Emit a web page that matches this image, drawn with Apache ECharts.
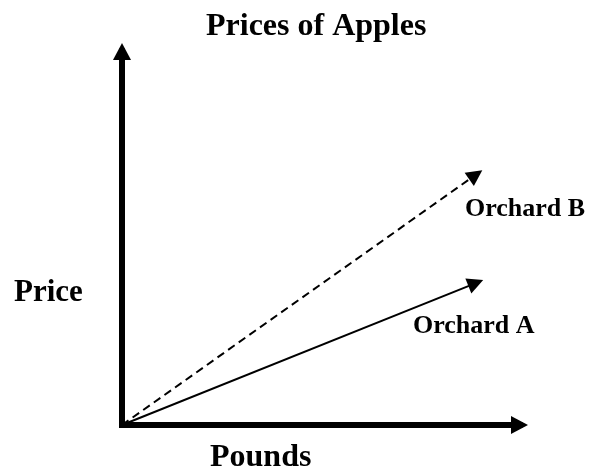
<!DOCTYPE html>
<html>
<head>
<meta charset="utf-8">
<script src="https://cdn.jsdelivr.net/npm/echarts@6/dist/echarts.min.js"></script>
<style>
  html, body { margin: 0; padding: 0; background: #fff; }
  #chart { width: 592px; height: 471px; }
</style>
</head>
<body>
<div id="chart"></div>
<script>
const seriesNames = ['Orchard A', 'Orchard B']
const pounds = [0, 8.9]
const orchardA = [0, 3.8]
const orchardB = [0, 6.7]

const font = '"Liberation Serif", "Times New Roman", serif'
const chart = echarts.init(document.getElementById('chart'))

function segment(ys) {
  return [{ coords: pounds.map((x, i) => [x, ys[i]]) }]
}

const axisCommon = {
  type: 'value',
  min: 0,
  max: 10,
  axisTick: { show: false },
  axisLabel: { show: false },
  splitLine: { show: false },
  axisLine: {
    show: true,
    onZero: false,
    symbol: ['none', 'triangle'],
    symbolSize: [18, 17],
    lineStyle: { color: '#000', width: 6, cap: 'square' },
  },
}

chart.setOption({
  animation: false,
  grid: { left: 122, right: 72.5, top: 51.5, bottom: 46, outerBoundsMode: 'none' },
  xAxis: axisCommon,
  yAxis: axisCommon,
  graphic: [
    { type: 'text', left: 206, top: 11, style: { text: 'Prices of Apples', font: 'bold 32px ' + font, fill: '#000' } },
    { type: 'text', left: 14, top: 277, style: { text: 'Price', font: 'bold 31px ' + font, fill: '#000' } },
    { type: 'text', left: 210, top: 442, style: { text: 'Pounds', font: 'bold 32px ' + font, fill: '#000' } },
    { type: 'text', left: 413, top: 313, style: { text: seriesNames[0], font: 'bold 26px ' + font, fill: '#000' } },
    { type: 'text', left: 465, top: 196, style: { text: seriesNames[1], font: 'bold 26px ' + font, fill: '#000' } },
  ],
  series: [
    {
      name: seriesNames[0],
      type: 'lines',
      coordinateSystem: 'cartesian2d',
      symbol: ['none', 'triangle'],
      symbolSize: 16,
      lineStyle: { color: '#000', width: 2, opacity: 1, curveness: 0 },
      data: segment(orchardA),
    },
    {
      name: seriesNames[1],
      type: 'lines',
      coordinateSystem: 'cartesian2d',
      symbol: ['none', 'triangle'],
      symbolSize: 16,
      lineStyle: { color: '#000', width: 2, opacity: 1, type: [8, 5], curveness: 0 },
      data: segment(orchardB),
    },
  ],
})
</script>
</body>
</html>
